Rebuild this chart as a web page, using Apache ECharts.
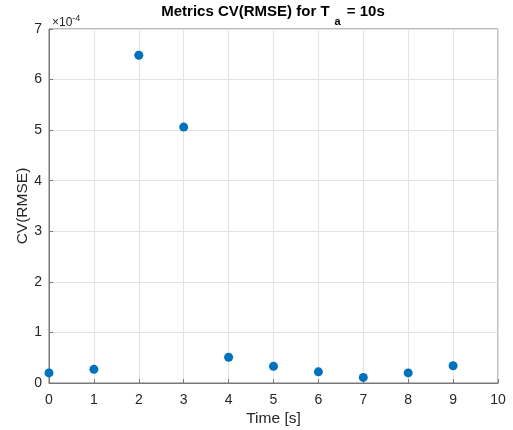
<!DOCTYPE html>
<html>
<head>
<meta charset="utf-8">
<script src="https://cdn.jsdelivr.net/npm/echarts@6/dist/echarts.min.js"></script>
<style>
  html, body { margin: 0; padding: 0; background: #fff; }
  #chart { width: 513px; height: 430px; }
</style>
</head>
<body>
<div id="chart"></div>
<script>
// Time instants [s]
const timeSec = [0, 1, 2, 3, 4, 5, 6, 7, 8, 9];
// CV(RMSE) values, expressed in units of 1e-4 (the axis multiplier)
const cvRmse = [0.20, 0.27, 6.48, 5.06, 0.51, 0.33, 0.22, 0.11, 0.20, 0.34];
const xTicks = [0, 1, 2, 3, 4, 5, 6, 7, 8, 9, 10];
const yTicks = [0, 1, 2, 3, 4, 5, 6, 7];

// Title pieces: main text, subscript, remainder
const titleHead = 'Metrics CV(RMSE) for T';
const titleSub = 'a';
const titleTail = ' = 10s';

const points = timeSec.map((t, i) => [t, cvRmse[i]]);
const axisColor = '#777777';
const textColor = '#262626';
const font = 'Liberation Sans, Arial, Helvetica, sans-serif';

// Lay out the title with a lowered subscript, centred over the plot area
const mainFont = 'bold 15px ' + font;
const subFont = 'bold 11px ' + font;
const ctx = document.createElement('canvas').getContext('2d');
const measure = (txt, f) => { ctx.font = f; return ctx.measureText(txt).width; };
const subGapBefore = 5, subGapAfter = 2;
const wHead = measure(titleHead, mainFont);
const wSub = measure(titleSub, subFont);
const wTail = measure(titleTail, mainFont);
const titleCenterX = 273;
const titleTotal = wHead + subGapBefore + wSub + subGapAfter + wTail;
const titleX0 = titleCenterX - titleTotal / 2;
const mainMidY = 12;
const subMidY = 21.5;

const chart = echarts.init(document.getElementById('chart'), null, { renderer: 'canvas' });
chart.setOption({
  animation: false,
  backgroundColor: '#ffffff',
  grid: {
    left: 49, right: 15, top: 29, bottom: 47,
    outerBoundsMode: 'none',
    show: true, borderColor: axisColor, borderWidth: 1
  },
  xAxis: {
    type: 'value',
    min: xTicks[0],
    max: xTicks[xTicks.length - 1],
    interval: 1,
    name: 'Time [s]',
    nameLocation: 'middle',
    nameGap: 28,
    nameMoveOverlap: false,
    nameTextStyle: { fontFamily: font, fontSize: 15.5, color: textColor },
    axisLine: { show: true, lineStyle: { color: axisColor } },
    axisTick: { show: true, inside: true, length: 4, lineStyle: { color: axisColor } },
    axisLabel: { fontFamily: font, fontSize: 14, color: textColor, margin: 10 },
    splitLine: { show: true, lineStyle: { color: '#e3e3e3' } }
  },
  yAxis: {
    type: 'value',
    min: yTicks[0],
    max: yTicks[yTicks.length - 1],
    interval: 1,
    name: 'CV(RMSE)',
    nameLocation: 'middle',
    nameGap: 18,
    nameMoveOverlap: false,
    nameTextStyle: { fontFamily: font, fontSize: 15.5, color: textColor },
    axisLine: { show: true, lineStyle: { color: axisColor } },
    axisTick: { show: true, inside: true, length: 4, lineStyle: { color: axisColor } },
    axisLabel: { fontFamily: font, fontSize: 14, color: textColor, margin: 7 },
    splitLine: { show: true, lineStyle: { color: '#e3e3e3' } }
  },
  graphic: [
    {
      type: 'text', silent: true,
      style: { x: titleX0, y: mainMidY, text: titleHead, font: mainFont, fill: '#000', align: 'left', verticalAlign: 'middle' }
    },
    {
      type: 'text', silent: true,
      style: { x: titleX0 + wHead + subGapBefore, y: subMidY, text: titleSub, font: subFont, fill: '#000', align: 'left', verticalAlign: 'middle' }
    },
    {
      type: 'text', silent: true,
      style: { x: titleX0 + wHead + subGapBefore + wSub + subGapAfter, y: mainMidY, text: titleTail, font: mainFont, fill: '#000', align: 'left', verticalAlign: 'middle' }
    },
    {
      type: 'text',
      left: 52,
      top: 13,
      style: {
        text: '{m|×10}{e|-4}',
        rich: {
          m: { fontFamily: font, fontSize: 12, fill: textColor, lineHeight: 14, padding: [4, 0, 0, 0] },
          e: { fontFamily: font, fontSize: 9, fill: textColor, verticalAlign: 'top', lineHeight: 10 }
        }
      }
    }
  ],
  series: [{
    type: 'scatter',
    data: points,
    symbol: 'circle',
    symbolSize: 9,
    itemStyle: { color: '#0072BD', opacity: 1 }
  }]
});
</script>
</body>
</html>
